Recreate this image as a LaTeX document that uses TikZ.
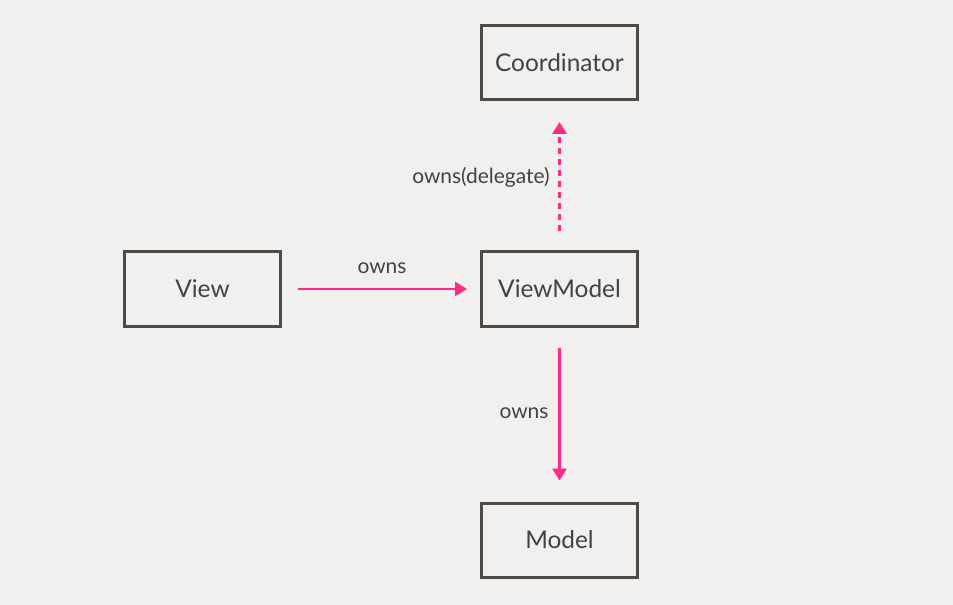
\documentclass[tikz,border=0pt]{standalone}
\usepackage{fontspec}
\setmainfont{Lato}
\usetikzlibrary{arrows.meta}
\definecolor{bgc}{HTML}{F1F0EE}
\definecolor{boxc}{HTML}{4D4A47}
\definecolor{pinkc}{HTML}{FF2A85}
\definecolor{txtc}{HTML}{444241}
\tikzset{
  box/.style={draw=boxc, line width=3bp, minimum width=156bp, minimum height=74bp, inner sep=0pt, text=txtc, font=\fontsize{24.5}{28}\selectfont},
  conn/.style={draw=pinkc, line width=2.6bp, -{Triangle[width=14bp,length=12bp]}},
  lbl/.style={text=txtc, font=\fontsize{21}{24}\selectfont, inner sep=0pt}
}
\begin{document}
\begin{tikzpicture}[x=1bp,y=-1bp]
\fill[bgc] (0,0) rectangle (953,605);
\useasboundingbox (0,0) rectangle (953,605);
\node[box] (coord) at (559.5,62.5) {Coordinator};
\node[box] (view) at (202.5,289) {View};
\node[box] (vm) at (559.5,289) {ViewModel};
\node[box] (model) at (559.5,540) {Model};
\draw[conn] ([xshift=16bp]view.east) -- ([xshift=-13bp]vm.west);
\draw[conn, dash pattern=on 6bp off 5bp] ([yshift=19bp]vm.north) -- ([yshift=-21bp]coord.south);
\draw[conn] ([yshift=-20bp]vm.south) -- ([yshift=21bp]model.north);
\node[lbl] (l1) at (382,268) {owns};
\node[lbl] (l2) at (481,177) {owns(delegate)};
\node[lbl] (l3) at (524,413) {owns};
\end{tikzpicture}
\end{document}
